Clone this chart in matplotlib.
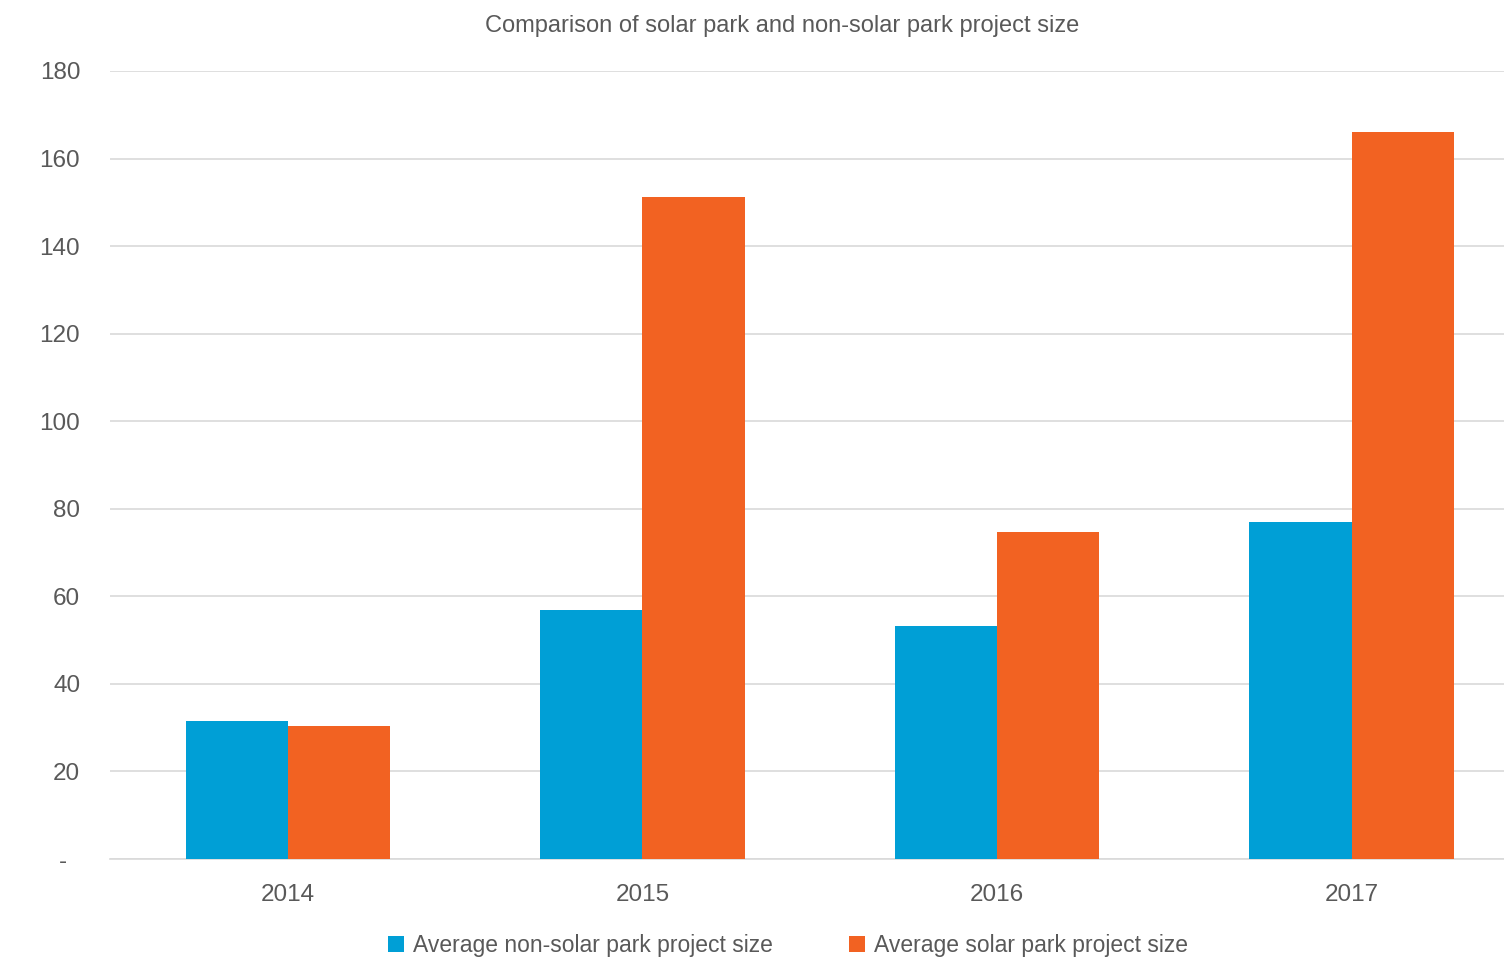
import matplotlib
matplotlib.use("Agg")
import matplotlib.pyplot as plt
import numpy as np
from matplotlib.ticker import FuncFormatter

years = ["2014", "2015", "2016", "2017"]
non_solar_park = [31.5, 56.9, 53.3, 77.0]
solar_park = [30.4, 151.3, 74.7, 166.1]

BLUE = "#009FD6"
ORANGE = "#F26222"
TEXT = "#595959"

plt.rcParams["font.family"] = ["Liberation Sans", "DejaVu Sans"]

fig = plt.figure(figsize=(15.04, 9.59), dpi=100)
ax = fig.add_axes([110 / 1504, 100 / 959, 1 - 110 / 1504, 788 / 959])

x = np.arange(len(years))
w = 0.288
ax.bar(x - w / 2, non_solar_park, w, color=BLUE, label="Average non-solar park project size", zorder=3)
ax.bar(x + w / 2, solar_park, w, color=ORANGE, label="Average solar park project size", zorder=3)

ax.set_xlim(-0.502, 3.43)
ax.set_ylim(0, 180)
ax.set_yticks(range(0, 181, 20))
# accounting style: zero shown as a dash, a bit left of the digits
ax.yaxis.set_major_formatter(FuncFormatter(lambda v, p: "-  " if v == 0 else f"{int(v)}"))
ax.set_xticks(x)
ax.set_xticklabels(years)
ax.tick_params(axis="both", length=0, labelsize=17.5, colors=TEXT)
ax.tick_params(axis="x", pad=18)
ax.tick_params(axis="y", pad=21.5)

ax.grid(axis="y", color="#D9D9D9", linewidth=1.2, zorder=0)
for s in ["top", "right", "left"]:
    ax.spines[s].set_visible(False)
ax.spines["bottom"].set_color("#D9D9D9")
ax.spines["bottom"].set_linewidth(1.2)

fig.text(0.52, 0.973, "Comparison of solar park and non-solar park project size",
         ha="center", va="center", fontsize=17, color=TEXT)

fig.legend(loc="center", bbox_to_anchor=(0.524, 0.014), ncol=2, frameon=False,
           fontsize=16.5, labelcolor=TEXT, handlelength=0.7, handleheight=0.7,
           handletextpad=0.4, columnspacing=3.3)

fig.savefig("out.png", dpi=100)
